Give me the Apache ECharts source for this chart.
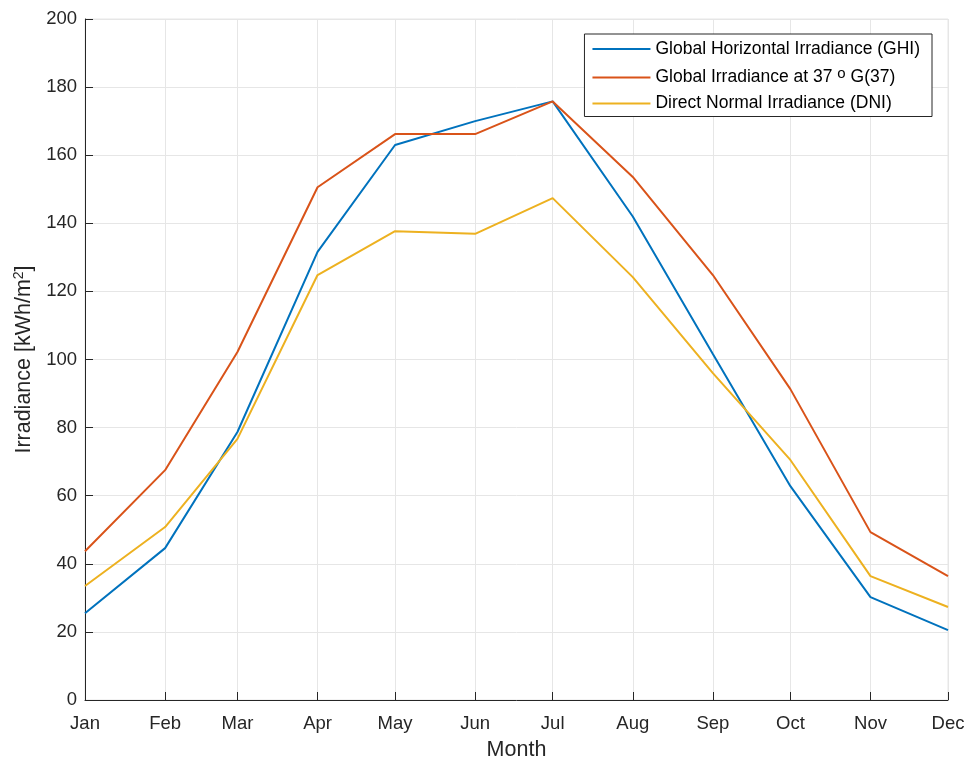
<!DOCTYPE html>
<html>
<head>
<meta charset="utf-8">
<script src="https://cdn.jsdelivr.net/npm/echarts@6/dist/echarts.min.js"></script>
<style>html,body{margin:0;padding:0;background:#fff}#c{width:968px;height:760px}</style>
</head>
<body>
<div id="c"></div>
<script>
const months = ['Jan','Feb','Mar','Apr','May','Jun','Jul','Aug','Sep','Oct','Nov','Dec'];
const ghi = [25.5, 44.6, 78.7, 131.6, 163.0, 170.0, 175.8, 142.0, 101.6, 62.8, 30.2, 20.5];
const g37 = [43.7, 67.5, 102.2, 150.6, 166.2, 166.2, 175.8, 153.6, 124.8, 91.3, 49.3, 36.4];
const dni = [33.5, 50.8, 76.7, 124.8, 137.7, 136.9, 147.4, 124.2, 96.0, 70.5, 36.4, 27.3];
const yTicks = [0, 20, 40, 60, 80, 100, 120, 140, 160, 180, 200];

const dates = months.map((m, i) => new Date(2021, i, 1).getTime());
const pair = arr => arr.map((v, i) => [dates[i], v]);

const chart = echarts.init(document.getElementById('c'), null, {renderer: 'canvas'});
const axisColor = '#262626';
const fontFam = 'Liberation Sans, Arial, Helvetica, sans-serif';
chart.setOption({
  animation: false,
  textStyle: {fontFamily: fontFam},
  grid: {left: 85, right: 20, top: 19, bottom: 60, outerBoundsMode: 'none', containLabel: false,
    show: true, borderColor: '#e6e6e6', borderWidth: 1},
  legend: {
    orient: 'vertical',
    right: 36, top: 34,
    backgroundColor: '#fff',
    borderColor: '#262626', borderWidth: 1, borderRadius: 0,
    padding: [6, 12, 4, 8],
    itemWidth: 58, itemHeight: 2, itemGap: 8,
    icon: 'rect',
    textStyle: {fontSize: 17.5, color: '#000', fontFamily: fontFam,
      rich: {sup: {fontSize: 15, verticalAlign: 'top', padding: [0, 0, 8, 0], color: '#000', fontFamily: fontFam}}},
    formatter: name => name === 'Global Irradiance at 37 o G(37)' ? 'Global Irradiance at 37 {sup|o} G(37)' : name,
    data: ['Global Horizontal Irradiance (GHI)', 'Global Irradiance at 37 o G(37)', 'Direct Normal Irradiance (DNI)']
  },
  xAxis: {
    type: 'time',
    min: dates[0], max: dates[dates.length - 1],
    minInterval: 28 * 86400000, maxInterval: 31 * 86400000,
    name: 'Month', nameLocation: 'middle', nameGap: 39,
    nameTextStyle: {fontSize: 21.5, color: axisColor, fontFamily: fontFam},
    axisLine: {show: true, lineStyle: {color: '#262626', width: 1}},
    axisTick: {show: true, inside: true, length: 8, lineStyle: {color: '#262626'}},
    axisLabel: {fontSize: 18.5, color: axisColor, margin: 14, hideOverlap: false, showMinLabel: true, showMaxLabel: true,
      formatter: v => months[new Date(v).getMonth()]},
    splitLine: {show: true, lineStyle: {color: '#e6e6e6', width: 1}}
  },
  yAxis: {
    type: 'value', min: yTicks[0], max: yTicks[yTicks.length - 1], interval: 20,
    name: '{a|Irradiance [kWh/m}{s|2}{a|]}', nameLocation: 'middle', nameGap: 47,
    nameTextStyle: {fontSize: 21.5, color: axisColor, rich: {
      a: {fontSize: 21.5, color: axisColor, fontFamily: fontFam},
      s: {fontSize: 14, color: axisColor, fontFamily: fontFam, verticalAlign: 'top', padding: [0, 0, 10, 0]}}},
    axisLine: {show: true, lineStyle: {color: '#262626', width: 1}},
    axisTick: {show: true, inside: true, length: 8, lineStyle: {color: '#262626'}},
    axisLabel: {fontSize: 18.5, color: axisColor, margin: 8},
    splitLine: {show: true, lineStyle: {color: '#e6e6e6', width: 1}}
  },
  series: [
    {name: 'Global Horizontal Irradiance (GHI)', type: 'line', data: pair(ghi), symbol: 'none', lineStyle: {color: '#0072BD', width: 2}, itemStyle: {color: '#0072BD'}},
    {name: 'Global Irradiance at 37 o G(37)', type: 'line', data: pair(g37), symbol: 'none', lineStyle: {color: '#D95319', width: 2}, itemStyle: {color: '#D95319'}},
    {name: 'Direct Normal Irradiance (DNI)', type: 'line', data: pair(dni), symbol: 'none', lineStyle: {color: '#EDB120', width: 2}, itemStyle: {color: '#EDB120'}}
  ]
});
</script>
</body>
</html>
